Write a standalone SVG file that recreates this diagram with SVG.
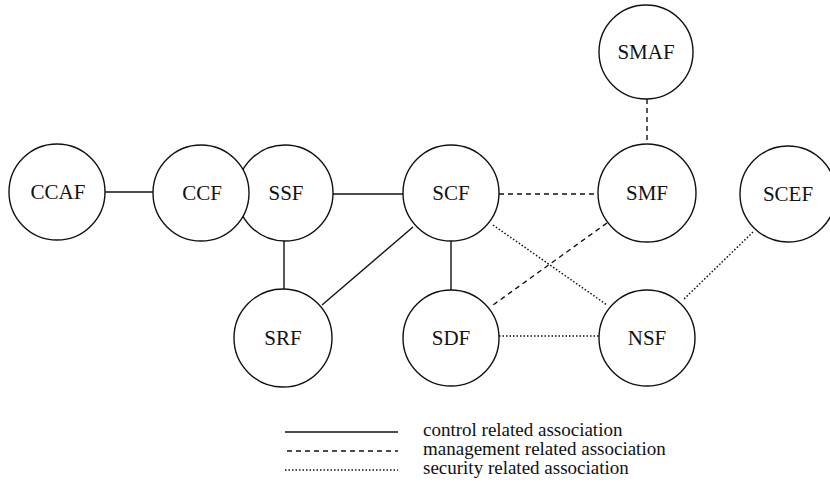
<svg xmlns="http://www.w3.org/2000/svg" width="830" height="488" viewBox="0 0 830 488">
<style>
.node circle{fill:#fff;stroke:#111;stroke-width:1.4}
.node text{font-family:"Liberation Serif","Times New Roman",serif;font-size:21px;fill:#111;text-anchor:middle}
.c{stroke:#111;stroke-width:1.4;fill:none}
.m{stroke:#111;stroke-width:1.4;fill:none;stroke-dasharray:5,4}
.s{stroke:#111;stroke-width:1.5;fill:none;stroke-dasharray:1.5,2}
.leg{font-family:"Liberation Serif","Times New Roman",serif;font-size:19px;fill:#111}
</style>
<rect width="830" height="488" fill="#fff"/>
<g id="connectors">
<line class="c" x1="105" y1="192" x2="153" y2="192"/>
<line class="c" x1="333" y1="194" x2="403" y2="194"/>
<line class="c" x1="284" y1="241" x2="284" y2="290"/>
<line class="c" x1="451" y1="241" x2="451" y2="290"/>
<line class="c" x1="413" y1="227" x2="322" y2="305"/>
<line class="m" x1="499" y1="194" x2="599" y2="194"/>
<line class="m" x1="647" y1="99" x2="647" y2="145"/>
<line class="m" x1="607" y1="223" x2="493" y2="305"/>
<line class="s" x1="493" y1="225" x2="607" y2="305"/>
<line class="s" x1="499" y1="336" x2="599" y2="336"/>
<line class="s" x1="753" y1="232" x2="683" y2="300"/>
</g>
<g id="SMAF" class="node"><circle cx="646" cy="52" r="47"/><text x="646" y="59">SMAF</text></g>
<g id="CCAF" class="node"><circle cx="57" cy="192" r="48"/><text x="58" y="199">CCAF</text></g>
<g id="SSF" class="node"><circle cx="285" cy="193" r="48"/><text x="286" y="200">SSF</text></g>
<g id="CCF" class="node"><circle cx="201" cy="193" r="48"/><text x="202" y="200">CCF</text></g>
<g id="SCF" class="node"><circle cx="451" cy="193" r="48"/><text x="451" y="200">SCF</text></g>
<g id="SMF" class="node"><circle cx="647" cy="193" r="49"/><text x="647" y="200">SMF</text></g>
<g id="SCEF" class="node"><circle cx="788" cy="194" r="48"/><text x="788" y="201">SCEF</text></g>
<g id="SRF" class="node"><circle cx="283" cy="338" r="49"/><text x="283" y="345">SRF</text></g>
<g id="SDF" class="node"><circle cx="451" cy="338" r="48"/><text x="451" y="345">SDF</text></g>
<g id="NSF" class="node"><circle cx="647" cy="338" r="48"/><text x="647" y="345">NSF</text></g>
<g id="legend">
<line class="c" x1="285" y1="432" x2="398" y2="432"/>
<line class="m" x1="287" y1="451" x2="398" y2="451"/>
<line class="s" x1="285" y1="470" x2="398" y2="470"/>
<text class="leg" x="423" y="436">control related association</text>
<text class="leg" x="423" y="455">management related association</text>
<text class="leg" x="423" y="474">security related association</text>
</g>
</svg>
